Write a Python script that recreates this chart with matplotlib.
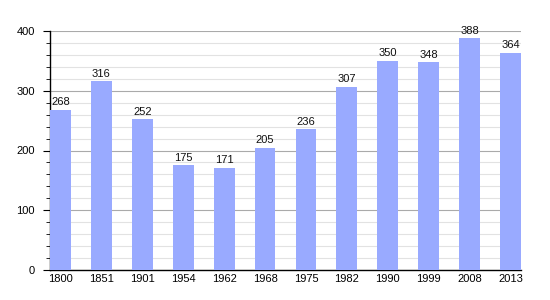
import matplotlib
matplotlib.use("Agg")
import matplotlib.pyplot as plt
from matplotlib.ticker import MultipleLocator

plt.rcParams["font.family"] = ["Liberation Sans", "DejaVu Sans"]

years = ["1800", "1851", "1901", "1954", "1962", "1968", "1975", "1982", "1990", "1999", "2008", "2013"]
population = [268, 316, 252, 175, 171, 205, 236, 307, 350, 348, 388, 364]

fig = plt.figure(figsize=(5.5, 3), dpi=100)
ax = fig.add_axes([50 / 550, 30 / 300, 471 / 550, 239 / 300])

x = list(range(len(years)))
ax.bar(x, population, width=0.51, color="#99aaff", zorder=3)
for xi, v in zip(x, population):
    ax.text(xi, v + 4, str(v), ha="center", va="bottom", fontsize=8, color="#111111", zorder=4)

ax.set_xlim(-0.255, len(years) - 1 + 0.255)
ax.set_ylim(0, 400)
ax.set_xticks(x)
ax.set_xticklabels(years)
ax.yaxis.set_major_locator(MultipleLocator(100))
ax.yaxis.set_minor_locator(MultipleLocator(20))
ax.grid(axis="y", which="major", color="#aaaaaa", linewidth=0.8, zorder=0)
ax.grid(axis="y", which="minor", color="#e2e2e2", linewidth=0.8, zorder=0)
for s in ["top", "right"]:
    ax.spines[s].set_visible(False)
ax.spines["left"].set_linewidth(1)
ax.spines["bottom"].set_linewidth(1)
ax.tick_params(axis="x", length=0, labelsize=8, pad=3)
ax.tick_params(axis="y", which="major", length=5, labelsize=8, pad=6)
ax.tick_params(axis="y", which="minor", length=3)

fig.savefig("out.png")
